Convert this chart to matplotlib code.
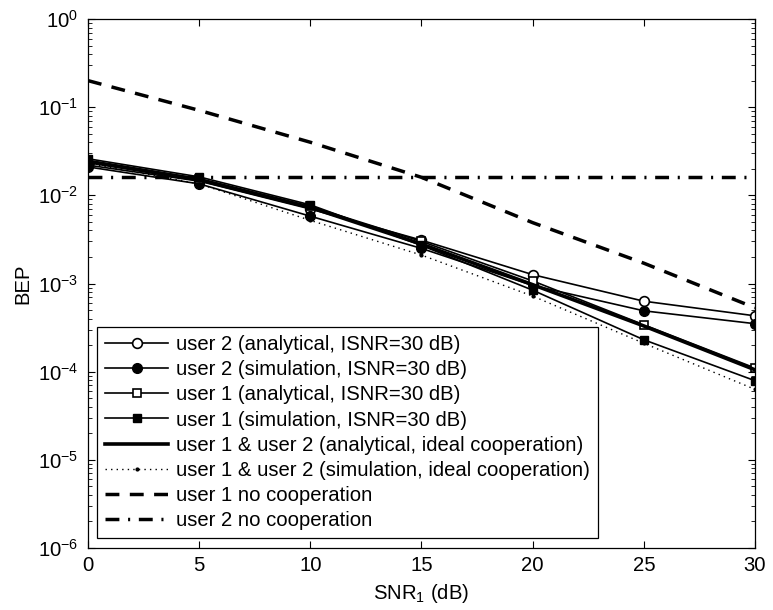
import matplotlib
matplotlib.use("Agg")
import matplotlib.pyplot as plt

plt.rcParams['font.family'] = ['Liberation Sans', 'DejaVu Sans']
plt.rcParams['mathtext.fontset'] = 'custom'
plt.rcParams['mathtext.rm'] = 'Liberation Sans'
plt.rcParams['mathtext.it'] = 'Liberation Sans:italic'
plt.rcParams['mathtext.bf'] = 'Liberation Sans:bold'

snr = [0, 5, 10, 15, 20, 25, 30]
u2_analytical = [0.022, 0.0145, 0.0070, 0.0031, 0.00126, 6.3e-4, 4.3e-4]
u2_simulation = [0.021, 0.0135, 0.0058, 0.0025, 9.5e-4, 4.9e-4, 3.5e-4]
u1_analytical = [0.025, 0.0155, 0.0075, 0.0030, 0.00107, 3.4e-4, 1.1e-4]
u1_simulation = [0.026, 0.0162, 0.0078, 0.0027, 8.4e-4, 2.3e-4, 7.9e-5]
ideal_analytical = [0.024, 0.0150, 0.0073, 0.0028, 9.7e-4, 3.3e-4, 1.05e-4]
ideal_simulation = [0.023, 0.0135, 0.0052, 0.0021, 7.2e-4, 2.1e-4, 6.3e-5]
u1_nocoop = [0.2, 0.092, 0.040, 0.016, 0.0049, 0.0017, 5.3e-4]
u2_nocoop = [0.0163, 0.0163, 0.0163, 0.0163, 0.0163, 0.0163, 0.0163]

labels = [
    "user 2 (analytical, ISNR=30 dB)",
    "user 2 (simulation, ISNR=30 dB)",
    "user 1 (analytical, ISNR=30 dB)",
    "user 1 (simulation, ISNR=30 dB)",
    "user 1 & user 2 (analytical, ideal cooperation)",
    "user 1 & user 2 (simulation, ideal cooperation)",
    "user 1 no cooperation",
    "user 2 no cooperation",
]

FS = 14.6

fig = plt.figure(figsize=(7.73, 6.10), dpi=100)
ax = fig.add_axes([88/773, 1 - 548/610, (755-88)/773, (548-19)/610])

ms = 7
ax.plot(snr, u2_analytical, '-', color='k', lw=1.2, marker='o', ms=ms, mfc='white', mec='k', mew=1.2, label=labels[0])
ax.plot(snr, u2_simulation, '-', color='k', lw=1.2, marker='o', ms=ms, mfc='k', mec='k', label=labels[1])
ax.plot(snr, u1_analytical, '-', color='k', lw=1.2, marker='s', ms=6, mfc='white', mec='k', mew=1.2, label=labels[2])
ax.plot(snr, u1_simulation, '-', color='k', lw=1.2, marker='s', ms=6, mfc='k', mec='k', label=labels[3])
ax.plot(snr, ideal_analytical, '-', color='k', lw=2.6, label=labels[4])
ax.plot(snr, ideal_simulation, linestyle=(0, (1, 3)), color='k', lw=1.0, marker='.', ms=4, label=labels[5])
ax.plot(snr, u1_nocoop, linestyle=(0, (4, 3)), color='k', lw=2.5, label=labels[6])
ax.plot(snr, u2_nocoop, linestyle=(0, (4, 2.5, 0.6, 2.5)), color='k', lw=2.5, label=labels[7])

ax.set_yscale('log')
ax.set_xlim(0, 30)
ax.set_ylim(1e-6, 1e0)
ax.set_xticks([0, 5, 10, 15, 20, 25, 30])
ax.tick_params(which='both', direction='in', top=True, right=True, labelsize=FS)
ax.tick_params(axis='x', which='major', pad=6)
ax.tick_params(axis='y', which='major', pad=7)
ax.tick_params(which='major', length=5, width=0.8)
ax.tick_params(which='minor', length=3, width=0.6)
for s in ax.spines.values():
    s.set_linewidth(0.9)

ax.set_xlabel(r"SNR$_\mathregular{1}$ (dB)", fontsize=FS, labelpad=5)
ax.set_ylabel("BEP", fontsize=FS, labelpad=4)

leg = ax.legend(loc='lower left', bbox_to_anchor=(9/667, 10/529), fontsize=FS, numpoints=1,
                handlelength=3.1, handletextpad=0.38, labelspacing=0.3, borderpad=0.4,
                fancybox=False, framealpha=1, edgecolor='k', borderaxespad=0)
leg.get_frame().set_linewidth(0.9)

fig.savefig("out.png", dpi=100)
